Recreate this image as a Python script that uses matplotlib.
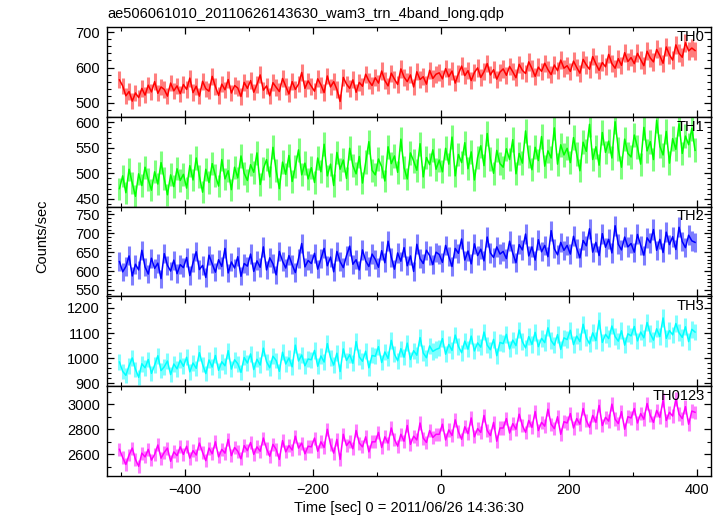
import numpy as np
import matplotlib
matplotlib.use("Agg")
import matplotlib.pyplot as plt
from matplotlib.ticker import MultipleLocator

plt.rcParams["font.family"] = ["Liberation Sans", "DejaVu Sans"]

title = "ae506061010_20110626143630_wam3_trn_4band_long.qdp"
xlabel = "Time [sec] 0 = 2011/06/26 14:36:30"
ylabel = "Counts/sec"
band_names = ["TH0", "TH1", "TH2", "TH3", "TH0123"]
colors = ["#ff0000", "#00ff00", "#0000ff", "#00ffff", "#ff00ff"]

# bin centres (5 s bins)
t_start = -502.5
t_step = 5.0

th0 = [565, 548, 520, 532, 505, 528, 515, 541, 522, 550, 531, 560, 527, 545, 538, 519, 556, 534, 548, 526,
       552, 538, 570, 529, 547, 519, 561, 540, 533, 575, 546, 521, 553, 537, 566, 528, 549, 542, 518, 558,
       541, 563, 530, 552, 579, 536, 548, 520, 557, 544, 532, 569, 547, 525, 560, 538, 553, 586, 541, 562,
       547, 533, 568, 551, 529, 576, 545, 560, 538, 504, 572, 553, 541, 565, 530, 558, 547, 581, 562, 549,
       571, 556, 590, 563, 548, 584, 567, 552, 596, 573, 560, 579, 545, 588, 566, 574, 553, 592, 569, 581,
       585, 568, 597, 574, 590, 556, 582, 604, 577, 591, 563, 586, 599, 572, 588, 611, 579, 594, 567, 587,
       596, 578, 603, 588, 571, 609, 592, 583, 616, 597, 575, 601, 589, 612, 594, 580, 607, 591, 621, 598,
       605, 589, 618, 600, 584, 623, 607, 595, 631, 610, 592, 614, 602, 637, 611, 598, 625, 606, 642, 617,
       628, 611, 640, 622, 605, 646, 627, 616, 651, 633, 612, 658, 636, 621, 664, 640, 629, 670, 647, 655,
       648]

th1 = [470, 495, 462, 508, 481, 455, 499, 476, 512, 488, 467, 503, 479, 521, 490, 458, 497, 474, 509, 486,
       498, 471, 515, 487, 530, 494, 463, 508, 482, 519, 496, 475, 527, 489, 505, 468, 512, 491, 534, 500,
       486, 517, 502, 540, 478, 509, 527, 493, 551, 505, 470, 522, 498, 535, 484, 513, 546, 497, 520, 489,
       511, 482, 530, 503, 557, 495, 518, 476, 541, 508, 526, 490, 549, 515, 499, 533, 481, 522, 562, 506,
       497, 528, 513, 485, 552, 519, 534, 502, 567, 511, 489, 540, 524, 506, 558, 493, 531, 517, 546, 508,
       526, 503, 549, 518, 571, 495, 537, 521, 560, 509, 542, 487, 531, 554, 515, 578, 528, 500, 545, 519,
       512, 548, 527, 566, 499, 539, 520, 583, 533, 507, 551, 525, 572, 514, 544, 530, 589, 518, 556, 536,
       549, 521, 570, 538, 505, 561, 543, 596, 527, 552, 516, 580, 541, 563, 530, 601, 548, 512, 567, 539,
       532, 575, 551, 518, 590, 544, 562, 527, 604, 553, 536, 582, 520, 568, 547, 597, 539, 573, 556, 588,
       545]

th2 = [625, 598, 612, 640, 587, 618, 603, 655, 611, 592, 634, 607, 621, 580, 646, 615, 600, 629, 593, 617,
       609, 636, 588, 622, 651, 604, 615, 583, 642, 619, 597, 630, 612, 660, 595, 624, 608, 638, 586, 620,
       613, 645, 599, 627, 610, 664, 603, 635, 619, 590, 652, 626, 608, 641, 617, 596, 633, 673, 611, 628,
       620, 647, 605, 633, 660, 614, 637, 598, 652, 625, 609, 641, 666, 618, 630, 603, 656, 627, 612, 645,
       631, 610, 654, 622, 679, 637, 605, 648, 626, 662, 614, 640, 599, 671, 633, 620, 655, 641, 617, 650,
       644, 623, 668, 638, 612, 660, 647, 685, 629, 653, 619, 672, 641, 658, 627, 690, 648, 636, 664, 645,
       652, 633, 679, 647, 622, 670, 656, 698, 640, 664, 629, 683, 651, 668, 638, 707, 659, 643, 676, 655,
       668, 645, 692, 660, 635, 681, 667, 712, 650, 676, 641, 699, 663, 684, 648, 720, 671, 656, 690, 664,
       673, 650, 697, 668, 642, 688, 675, 710, 655, 684, 649, 703, 670, 691, 657, 716, 678, 662, 695, 680,
       676]

th3 = [985, 948, 932, 970, 1001, 956, 924, 978, 962, 995, 940, 973, 1010, 951, 966, 989, 935, 977, 958, 992,
       968, 1004, 946, 981, 960, 1022, 975, 939, 993, 965, 1011, 952, 986, 970, 1030, 957, 994, 978, 944, 1003,
       981, 1017, 955, 996, 973, 1040, 986, 962, 1008, 991, 948, 1024, 977, 1001, 966, 1052, 989, 1013, 970, 997,
       994, 1031, 968, 1009, 985, 1058, 1002, 973, 1020, 947, 1037, 991, 1014, 980, 1066, 1005, 988, 1028, 962, 1011,
       1008, 1046, 983, 1025, 999, 1071, 1016, 990, 1038, 1004, 1060, 995, 1030, 1012, 1082, 1021, 1002, 1049, 1027, 1035,
       1040, 1078, 1016, 1055, 1031, 1092, 1047, 1022, 1068, 1036, 1088, 1029, 1061, 1044, 1104, 1052, 1034, 1075, 1010, 1063,
       1058, 1095, 1037, 1072, 1050, 1112, 1066, 1041, 1086, 1055, 1103, 1046, 1079, 1062, 1121, 1070, 1052, 1094, 1035, 1081,
       1074, 1111, 1054, 1088, 1066, 1135, 1082, 1057, 1101, 1070, 1150, 1063, 1095, 1078, 1128, 1086, 1068, 1109, 1052, 1097,
       1089, 1126, 1069, 1104, 1081, 1142, 1098, 1072, 1117, 1086, 1160, 1079, 1110, 1093, 1138, 1101, 1083, 1125, 1066, 1115,
       1104]

th0123 = [2640, 2575, 2520, 2595, 2650, 2560, 2505, 2610, 2580, 2640, 2555, 2600, 2675, 2570, 2615, 2650, 2545, 2620, 2590, 2660,
          2600, 2665, 2570, 2630, 2595, 2690, 2615, 2550, 2650, 2605, 2700, 2580, 2640, 2610, 2720, 2590, 2655, 2625, 2565, 2670,
          2630, 2695, 2600, 2660, 2625, 2730, 2645, 2585, 2680, 2640, 2560, 2710, 2620, 2670, 2635, 2745, 2650, 2690, 2605, 2665,
          2660, 2730, 2625, 2700, 2655, 2800, 2680, 2610, 2720, 2560, 2760, 2670, 2705, 2645, 2790, 2690, 2660, 2740, 2620, 2700,
          2700, 2775, 2655, 2740, 2690, 2810, 2720, 2665, 2760, 2705, 2830, 2680, 2745, 2715, 2850, 2730, 2695, 2790, 2735, 2760,
          2760, 2840, 2715, 2795, 2750, 2875, 2780, 2720, 2820, 2765, 2890, 2740, 2805, 2775, 2910, 2790, 2750, 2855, 2705, 2810,
          2810, 2885, 2770, 2845, 2800, 2920, 2830, 2775, 2870, 2815, 2940, 2790, 2855, 2825, 2960, 2840, 2805, 2900, 2760, 2860,
          2850, 2925, 2810, 2885, 2840, 2965, 2870, 2815, 2910, 2855, 2990, 2830, 2895, 2865, 3000, 2880, 2845, 2940, 2800, 2900,
          2890, 2965, 2850, 2925, 2880, 3005, 2910, 2855, 2950, 2895, 3030, 2870, 2935, 2905, 3040, 2920, 2885, 2980, 2840, 2945,
          2935]

series = [th0, th1, th2, th3, th0123]
ylims = [(461, 715), (435, 611), (533, 771), (889, 1246), (2428, 3143)]
y_major = [100, 50, 50, 100, 200]
y_minor = [20, 10, 10, 20, 100]

t = t_start + t_step * np.arange(len(th0))

fig, axes = plt.subplots(5, 1, sharex=True, figsize=(7.23, 5.16), dpi=100)
fig.subplots_adjust(left=0.148, right=0.983, top=0.948, bottom=0.0775, hspace=0)

for ax, vals, name, c, yl, maj, mnr in zip(axes, series, band_names, colors, ylims, y_major, y_minor):
    v = np.array(vals, dtype=float)
    err = np.sqrt(v)  # poisson error on 1 s bins
    ax.vlines(t, v - err, v + err, colors=c, alpha=0.5, lw=2.2)
    ax.plot(t, v, color=c, lw=1.1)
    ax.set_ylim(*yl)
    ax.yaxis.set_major_locator(MultipleLocator(maj))
    ax.yaxis.set_minor_locator(MultipleLocator(mnr))
    ax.xaxis.set_major_locator(MultipleLocator(200))
    ax.xaxis.set_minor_locator(MultipleLocator(100))
    ax.tick_params(which="both", direction="in", top=True, right=True, labelsize=10.5, pad=5)
    ax.tick_params(which="major", length=5, width=0.9)
    ax.tick_params(which="minor", length=3, width=0.8)
    for s in ax.spines.values():
        s.set_linewidth(1.0)
    ax.text(0.99, 0.89, name, transform=ax.transAxes, ha="right", va="center", fontsize=10.5)

axes[-1].set_xlim(-522, 422)
for ax in axes[:-1]:
    ax.tick_params(labelbottom=False)

fig.text(0.149, 1 - 14 / 516, title, ha="left", va="center", fontsize=10.5)
fig.text(409 / 723, 1 - 508 / 516, xlabel, ha="center", va="center", fontsize=10.5)
fig.text(42 / 723, 1 - 236 / 516, ylabel, ha="center", va="center", rotation=90, fontsize=10.5)

fig.savefig("out.png", dpi=100)
